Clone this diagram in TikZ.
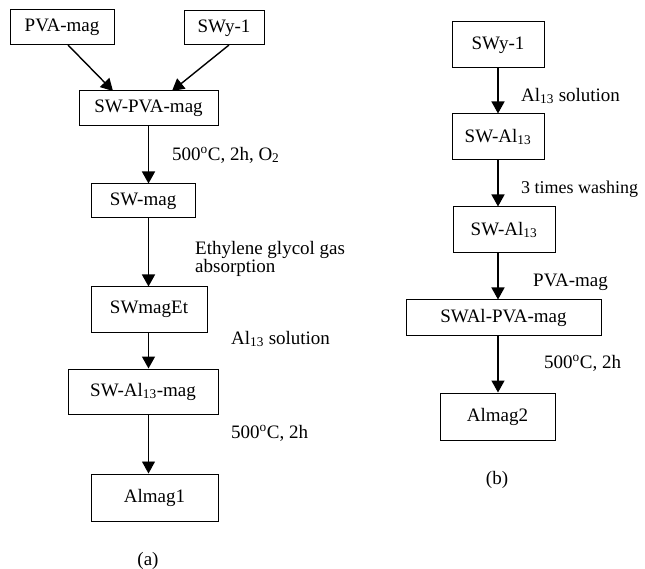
\documentclass[tikz,border=0pt]{standalone}
\usepackage{fontspec}
\setmainfont{Liberation Serif}
\usetikzlibrary{arrows.meta}
\begin{document}
\begin{tikzpicture}[x=1pt,y=-1pt,
  box/.style={draw,line width=1pt,inner sep=0pt,font=\fontsize{19}{23}\selectfont},
  lbl/.style={inner sep=0pt,anchor=west,font=\fontsize{19}{23}\selectfont},
  arr/.style={line width=1.4pt,-{Triangle[length=12pt,width=13pt]}},
  thin arr/.style={line width=0.9pt,-{Triangle[length=12pt,width=13pt]}}]
\useasboundingbox (0,0) rectangle (645,569);
% (a)
\node[box,minimum width=104pt,minimum height=35pt] (pva) at (62,27.5) {PVA-mag};
\node[box,minimum width=80pt,minimum height=34pt] (swy) at (224,28) {SWy-1};
\node[box,minimum width=139pt,minimum height=35pt] (swpva) at (148.5,108.5) {SW-PVA-mag};
\node[box,minimum width=104pt,minimum height=34pt] (swmag) at (143,201) {SW-mag};
\node[box,minimum width=116pt,minimum height=45pt] (swmagEt) at (149,309.5) {SWmagEt};
\node[box,minimum width=150pt,minimum height=45pt] (swalmag) at (143,391.5) {SW-Al\textsubscript{13}-mag};
\node[box,minimum width=127pt,minimum height=47pt] (almag1) at (154.5,497.5) {Almag1};
\coordinate (pvaout) at (68,45);
\coordinate (swyout) at (229,45);
\coordinate (in1) at (113,91);
\coordinate (in2) at (172,91);
\draw[arr] (pvaout) -- (in1);
\draw[arr] (swyout) -- (in2);
\draw[arr] (swpva.south) -- (swpva.south |- swmag.north);
\draw[arr] (swpva.south |- swmag.south) -- (swpva.south |- swmagEt.north);
\draw[arr] (swpva.south |- swmagEt.south) -- (swpva.south |- swalmag.north);
\draw[thin arr] (swpva.south |- swalmag.south) -- (swpva.south |- almag1.north);
\node[lbl] (l1) at (172,155) {500\textsuperscript{o}C, 2h, O\textsubscript{2}};
\node[lbl,align=left,font=\fontsize{19}{18}\selectfont] (l2) at (195,259) {Ethylene glycol gas\\absorption};
\node[lbl] (l3) at (231,339) {Al\textsubscript{13} solution};
\node[lbl] (l4) at (231,433) {500\textsuperscript{o}C, 2h};
\node[inner sep=0pt,font=\fontsize{19}{23}\selectfont] (capa) at (148,561) {(a)};
% (b)
\node[box,minimum width=92pt,minimum height=46pt] (swy2) at (498,45) {SWy-1};
\node[box,minimum width=92pt,minimum height=46pt] (swal1) at (498,137) {SW-Al\textsubscript{13}};
\node[box,minimum width=102pt,minimum height=46pt] (swal2) at (504,230) {SW-Al\textsubscript{13}};
\node[box,minimum width=195pt,minimum height=35pt] (swalpva) at (503.5,317.5) {SWAl-PVA-mag};
\node[box,minimum width=115pt,minimum height=47pt] (almag2) at (497.5,416.5) {Almag2};
\draw[arr] (swy2.south) -- (swy2.south |- swal1.north);
\draw[arr] (swy2.south |- swal1.south) -- (swy2.south |- swal2.north);
\draw[arr] (swy2.south |- swal2.south) -- (swy2.south |- swalpva.north);
\draw[arr] (swy2.south |- swalpva.south) -- (swy2.south |- almag2.north);
\node[lbl] (r1) at (521,96) {Al\textsubscript{13} solution};
\node[lbl,font=\fontsize{18}{22}\selectfont] (r2) at (521,189) {3 times washing};
\node[lbl] (r3) at (533,282) {PVA-mag};
\node[lbl] (r4) at (544,363) {500\textsuperscript{o}C, 2h};
\node[inner sep=0pt,font=\fontsize{19}{23}\selectfont] (capb) at (497,480) {(b)};
\end{tikzpicture}
\end{document}
